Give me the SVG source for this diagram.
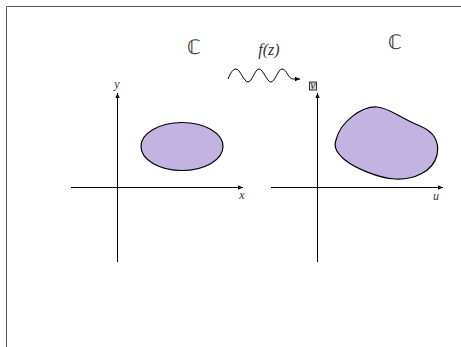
<svg xmlns="http://www.w3.org/2000/svg" width="461" height="347" viewBox="0 0 461 347">
<style>
.ax{stroke:#000;stroke-width:1;fill:none}
.reg{fill:#c3b3e0;stroke:#000;stroke-width:1.2}
.lbl{font-family:"Liberation Serif","DejaVu Serif",serif;font-style:italic;font-size:12px;fill:#333}
.big{font-family:"DejaVu Sans","Noto Sans",sans-serif;font-size:20px;fill:#333}
.fz{font-family:"Liberation Serif","DejaVu Serif",serif;font-style:italic;font-size:16px;fill:#333}
</style>
<defs>
<marker id="ah" markerWidth="6" markerHeight="6" refX="5" refY="3" orient="auto" markerUnits="userSpaceOnUse">
<path d="M0,0.8 L5,3 L0,5.2 Z" fill="#000"/>
</marker>
</defs>
<rect x="0" y="0" width="461" height="347" fill="#fff"/>
<path d="M6.5,347 L6.5,6.5 L461,6.5" fill="none" stroke="#555" stroke-width="1"/>
<g id="left-plane">
<line class="ax" x1="71" y1="187.5" x2="243" y2="187.5" marker-end="url(#ah)"/>
<line class="ax" x1="117.5" y1="262" x2="117.5" y2="93" marker-end="url(#ah)"/>
<text class="lbl" x="117" y="88" text-anchor="middle">y</text>
<text class="lbl" x="242" y="199" text-anchor="middle">x</text>
<text class="big" x="194" y="54" text-anchor="middle">ℂ</text>
</g>
<g id="left-region">
<ellipse class="reg" cx="182" cy="146.5" rx="41" ry="24"/>
</g>
<g id="right-plane">
<line class="ax" x1="271" y1="187.5" x2="443" y2="187.5" marker-end="url(#ah)"/>
<line class="ax" x1="317.5" y1="262" x2="317.5" y2="93" marker-end="url(#ah)"/>
<rect x="309.5" y="82" width="7" height="8" fill="#ddd" stroke="#000" stroke-width="0.8"/>
<text class="lbl" x="313" y="89" text-anchor="middle" font-size="10">v</text>
<text class="lbl" x="436" y="200" text-anchor="middle" font-size="15">u</text>
<text class="big" x="395" y="49" text-anchor="middle">ℂ</text>
</g>
<g id="right-region">
<path class="reg" d="M336,140 C340,122 362,106 377,107 C390,108 398,117 420,126 C432,131 440,140 437,155 C433,172 413,180 395,179 C378,178 355,168 345,160 C338,154 333,148 336,140 Z"/>
</g>
<g id="connectors">
<path class="ax" d="M228,79 C231,72 233,69 236,69 C240,69 244,82 248,82 C252,82 255,69 259,69 C263,69 267,82 271,82 C275,82 278,69 282,69 C287,69 288,79 293,79 L300,79" marker-end="url(#ah)"/>
<text class="fz" x="269" y="55" text-anchor="middle">f(z)</text>
</g>
</svg>
